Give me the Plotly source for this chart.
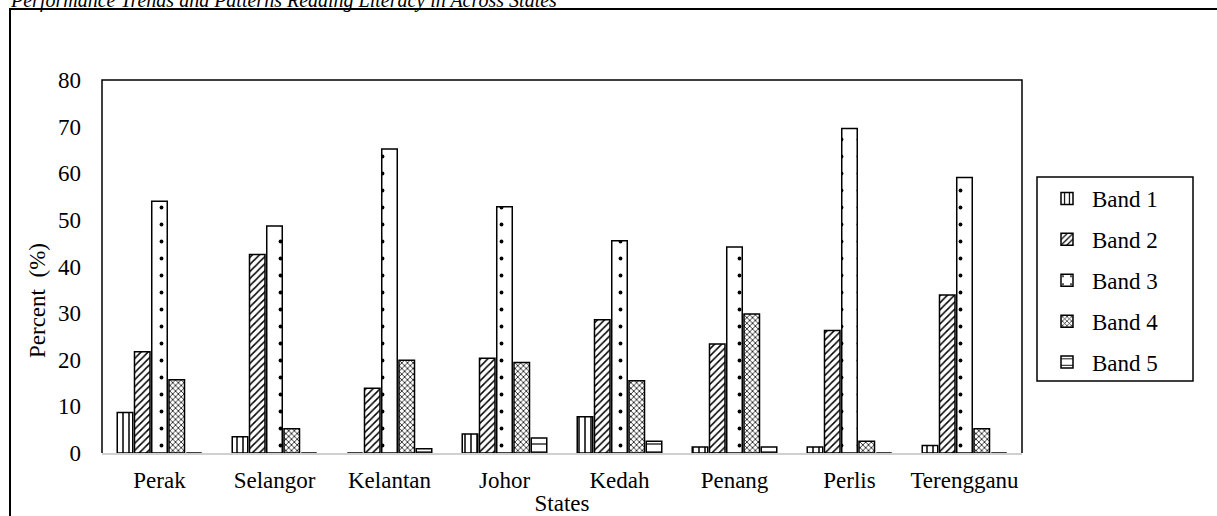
import plotly.graph_objects as go

states = ["Perak", "Selangor", "Kelantan", "Johor", "Kedah", "Penang", "Perlis", "Terengganu"]
band1 = [8.7, 3.5, 0.0, 4.1, 7.8, 1.3, 1.3, 1.6]
band2 = [21.7, 42.6, 13.9, 20.3, 28.6, 23.4, 26.3, 33.9]
band3 = [54.0, 48.7, 65.2, 52.8, 45.5, 44.2, 69.6, 59.1]
band4 = [15.7, 5.2, 19.9, 19.4, 15.5, 29.8, 2.5, 5.2]
band5 = [0.0, 0.0, 0.9, 3.2, 2.5, 1.3, 0.0, 0.0]
series_names = ["Band 1", "Band 2", "Band 3", "Band 4", "Band 5"]
series_values = [band1, band2, band3, band4, band5]
patterns = [("|", 6, 0.25), ("/", 5, 0.3), (".", 17, 0.04), ("x", 4, 0.35), ("-", 8, 0.15)]

FONT = "Liberation Serif"
FS = 23

fig = go.Figure()
for name, vals, (shape, size, sol) in zip(series_names, series_values, patterns):
    fig.add_trace(go.Bar(
        x=states, y=vals, name=name, legendgroup=name,
        marker=dict(color="white", line=dict(color="black", width=1.5),
                    pattern=dict(shape=shape, size=size, solidity=sol,
                                 fgcolor="black", bgcolor="white", fillmode="replace")),
    ))

W0, H0, T, B = 1217, 516, 80, 63
L, R = 102, 195
PW = W0 - L - R
PH = H0 - T - B

def px2x(p):
    return (p - L) / PW

def px2y(p):
    return (H0 - B - p) / PH

fig.update_layout(
    width=W0, height=H0,
    margin=dict(l=L, r=R, t=T, b=B, pad=0, autoexpand=False),
    paper_bgcolor="white", plot_bgcolor="white",
    font=dict(family=FONT, size=FS, color="black"),
    barmode="group", bargap=0.25, bargroupgap=0.1,
    showlegend=True,
    legend=dict(x=px2x(1042), y=px2y(177), xanchor="left", yanchor="top",
                borderwidth=0, bgcolor="rgba(0,0,0,0)",
                font=dict(family=FONT, size=FS), tracegroupgap=8,
                itemwidth=40),
    xaxis=dict(showline=True, linecolor="#d0d0d0", linewidth=2, ticks="",
               ticklabelstandoff=5, automargin=False,
               tickfont=dict(family=FONT, size=FS),
               title=dict(text="States", font=dict(family=FONT, size=FS), standoff=0)),
    yaxis=dict(range=[0, 80], dtick=10, showgrid=False, zeroline=False,
               showline=False, ticks="", ticklabelstandoff=20, automargin=False,
               tickfont=dict(family=FONT, size=FS)),
)

# plot-area border (top, left, right)
fig.add_shape(type="path", xref="paper", yref="paper",
              path="M 0 0 L 0 1 L 1 1 L 1 0",
              line=dict(color="black", width=1.5))
# outer frame
fig.add_shape(type="rect", xref="paper", yref="paper",
              x0=px2x(10), y0=px2y(540), x1=px2x(1250), y1=px2y(9),
              line=dict(color="black", width=2), layer="below")
# legend box
fig.add_shape(type="rect", xref="paper", yref="paper",
              x0=px2x(1037), y0=px2y(381), x1=px2x(1193), y1=px2y(177),
              line=dict(color="black", width=1.5), fillcolor="white", layer="below")

fig.add_annotation(text="Percent  (%)", xref="paper", yref="paper",
                   x=px2x(37), y=px2y(301), xanchor="center", yanchor="middle",
                   textangle=-90, showarrow=False, font=dict(family=FONT, size=FS))
fig.add_annotation(text="<i>Performance Trends and Patterns Reading Literacy in Across States</i>",
                   xref="paper", yref="paper", x=px2x(8), y=px2y(14),
                   xanchor="left", yanchor="bottom", showarrow=False,
                   font=dict(family=FONT, size=20))

fig.write_html("out.html", config={"displayModeBar": False},
               post_script="document.body.style.margin='0';")
